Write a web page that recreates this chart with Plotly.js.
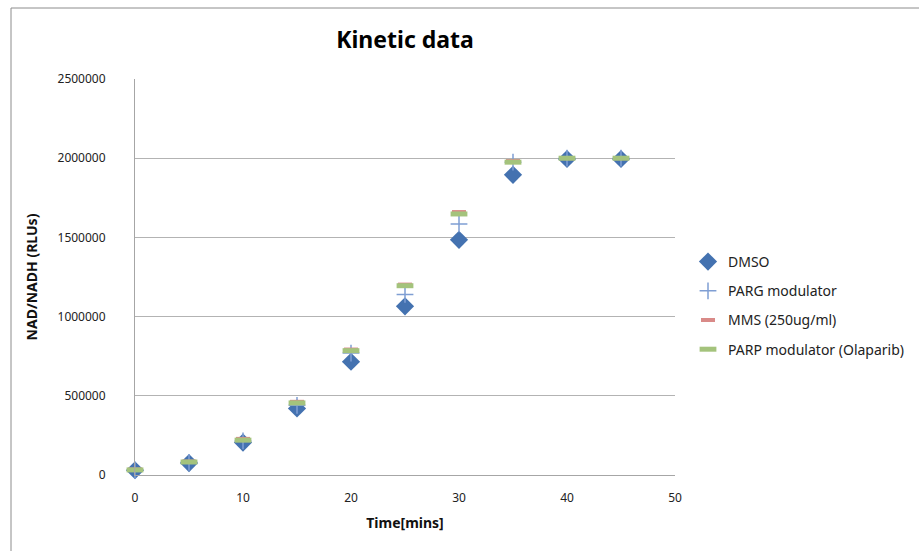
<!DOCTYPE html>
<html>
<head>
<meta charset="utf-8">
<script src="https://cdn.plot.ly/plotly-3.0.1.min.js"></script>
<style>html,body{margin:0;padding:0;background:#fff}#chart{width:919px;height:551px}</style>
</head>
<body>
<div id="chart"></div>
<script>
const time = [0, 5, 10, 15, 20, 25, 30, 35, 40, 45];
const dmso = [30000, 75000, 205000, 420000, 715000, 1065000, 1485000, 1895000, 1995000, 1995000];
const parg = [30000, 80000, 215000, 440000, 770000, 1140000, 1585000, 1975000, 2000000, 2000000];
const mms  = [35000, 85000, 228000, 462000, 792000, 1202000, 1660000, 1982000, 2000000, 2000000];
const parp = [32000, 82000, 220000, 455000, 785000, 1195000, 1648000, 1975000, 2000000, 2000000];
const seriesNames = ["DMSO", "PARG modulator", "MMS (250ug/ml)", "PARP modulator (Olaparib)"];
const yTicks = [0, 500000, 1000000, 1500000, 2000000, 2500000];
const xTicks = [0, 10, 20, 30, 40, 50];

const FONT = "Noto Sans, Open Sans, sans-serif";
const L = 135, R = 675, T = 79, B = 475, W = 919, H = 551;
const px = v => (v - L) / (R - L);
const py = v => (B - v) / (B - T);

const traces = [
  {x: time, y: dmso, name: seriesNames[0], legendgroup: "a", type: "scatter", mode: "markers", cliponaxis: false,
   marker: {symbol: "diamond", size: 14, color: "#4472B0", line: {width: 0}}},
  {x: time, y: parg, name: seriesNames[1], legendgroup: "b", type: "scatter", mode: "markers", cliponaxis: false,
   marker: {symbol: "cross-thin", size: 12, color: "#7F9ED3", line: {width: 1.5, color: "#7F9ED3"}}},
  {x: time, y: mms, name: seriesNames[2], legendgroup: "c", type: "scatter", mode: "markers", cliponaxis: false,
   marker: {symbol: "line-ew", size: 10, color: "#D98A88", line: {width: 4, color: "#D98A88"}}},
  {x: time, y: parp, name: seriesNames[3], legendgroup: "d", type: "scatter", mode: "markers", cliponaxis: false,
   marker: {symbol: "line-ew", size: 12, color: "#A4C37C", line: {width: 5, color: "#A4C37C"}}}
];

const layout = {
  width: W, height: H,
  margin: {l: L, r: W - R, t: T, b: H - B, pad: 0, autoexpand: false},
  paper_bgcolor: "#fff", plot_bgcolor: "#fff",
  font: {family: FONT, size: 12, color: "#222"},
  title: {text: "<b>Kinetic data</b>", font: {family: FONT, size: 23, color: "#000"}, x: 405 / W, xanchor: "center", y: 1 - 40 / H, yanchor: "middle"},
  xaxis: {
    range: [0, 50], tickvals: xTicks, ticktext: xTicks.map(String), showgrid: false, zeroline: false,
    showline: true, linecolor: "#A6A6A6", linewidth: 1, ticks: "", ticklabelstandoff: 12, automargin: false,
    tickfont: {family: FONT, size: 12, color: "#222"},
    title: {text: "<b>Time[mins]</b>", font: {family: FONT, size: 14, color: "#111"}, standoff: 12}
  },
  yaxis: {
    range: [0, 2500000], tickvals: yTicks, ticktext: yTicks.map(String), showgrid: true, gridcolor: "#B3B3B3", gridwidth: 1,
    zeroline: false, showline: true, linecolor: "#A6A6A6", linewidth: 1, ticks: "", ticklabelstandoff: 26, automargin: false,
    tickfont: {family: FONT, size: 12, color: "#222"},
    title: {text: "<b>NAD/NADH (RLUs)</b>", font: {family: FONT, size: 14, color: "#111"}, standoff: 16}
  },
  showlegend: true,
  legend: {x: px(688), y: py(246), xanchor: "left", yanchor: "top", bgcolor: "rgba(0,0,0,0)",
    font: {family: FONT, size: 14, color: "#222"}, traceorder: "grouped", tracegroupgap: 8, itemwidth: 30},
  shapes: [
    {type: "rect", xref: "paper", yref: "paper", x0: px(11), x1: px(930), y0: py(8), y1: py(570),
     line: {color: "#8C8C8C", width: 1}, fillcolor: "rgba(0,0,0,0)", layer: "below"}
  ]
};

Plotly.newPlot("chart", traces, layout, {displayModeBar: false, staticPlot: true});
</script>
</body>
</html>
